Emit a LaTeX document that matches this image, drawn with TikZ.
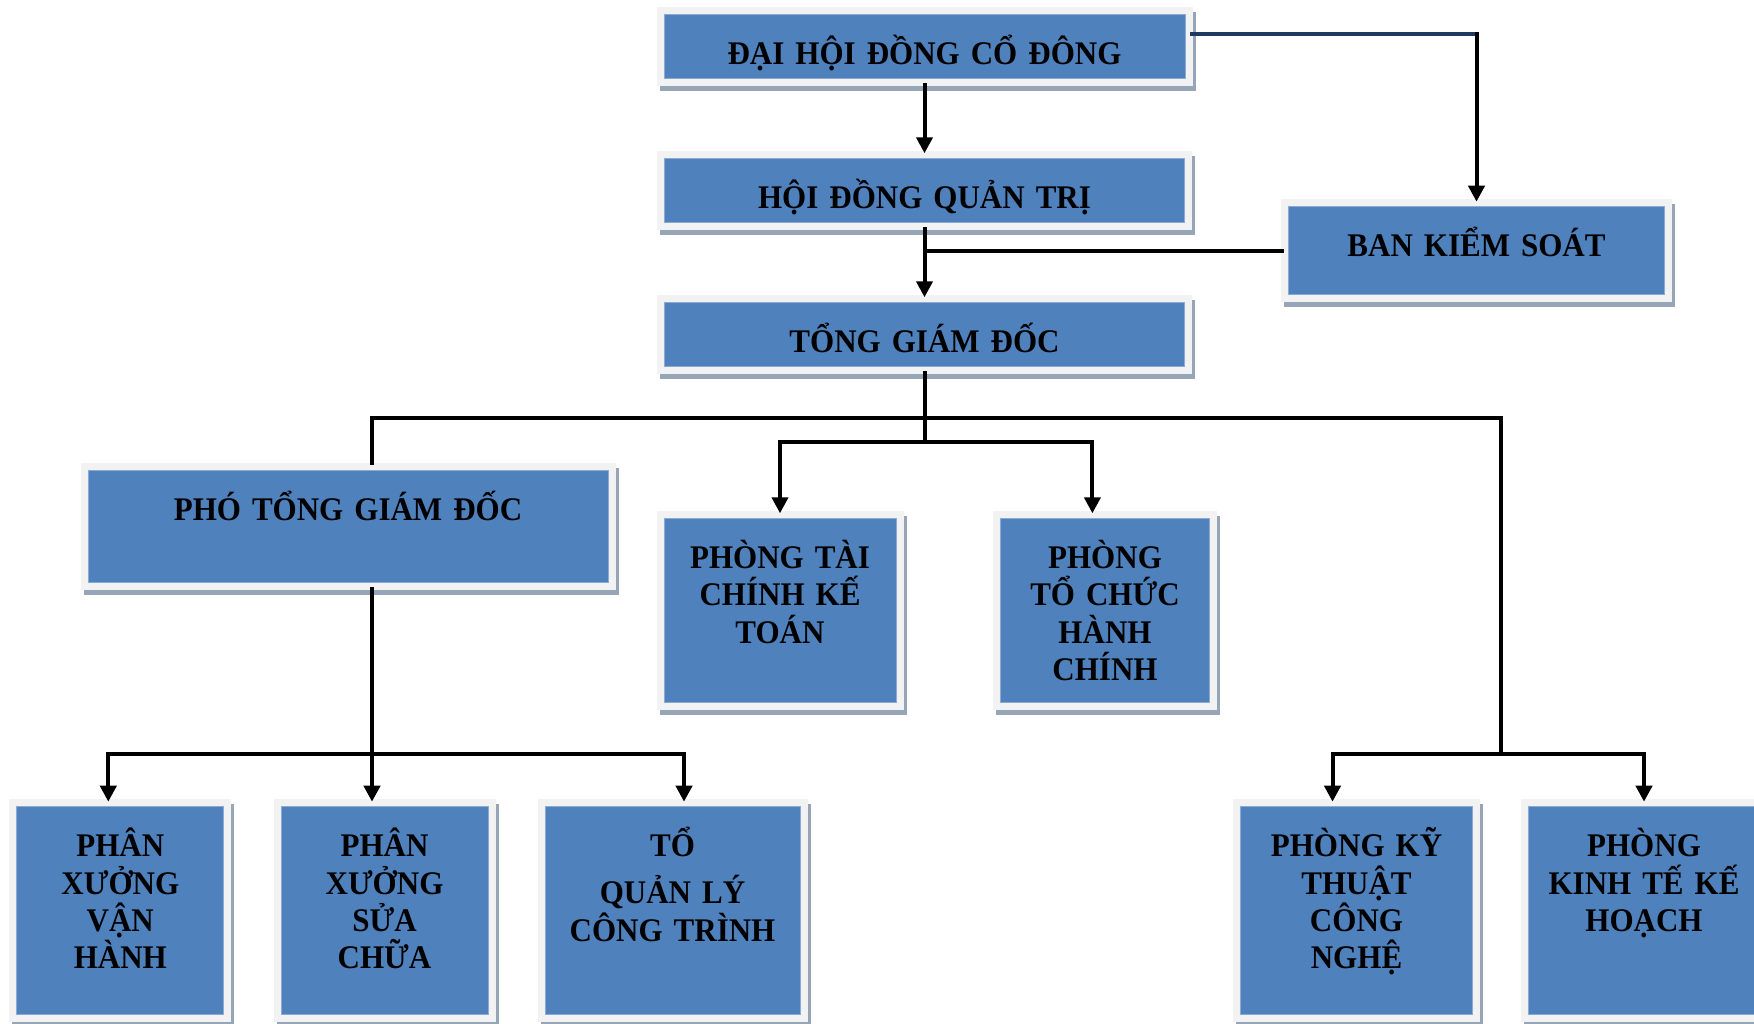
\documentclass[tikz,border=0pt]{standalone}
\usepackage{fontspec}
\setmainfont{Liberation Serif}[FakeStretch=0.94]
\usepackage{xcolor}
\usepackage{tikz}
\usetikzlibrary{arrows.meta}
\definecolor{boxblue}{HTML}{4F81BD}
\definecolor{boxedge}{HTML}{8DAAD6}
\definecolor{framegray}{HTML}{F2F2F2}
\definecolor{shadowgray}{HTML}{97A5B8}
\definecolor{navyline}{HTML}{1F3A60}
\tikzset{
	orgbox/.style={rectangle, fill=boxblue, draw=boxedge, line width=0.5pt,
		inner sep=0pt, outer sep=2.5pt, text height=25pt, align=center,
		font=\bfseries\fontsize{16.5}{18.7}\selectfont,
		preaction={draw=shadowgray, line width=7.5pt, transform canvas={shift={(1.5pt,-2.5pt)}}},
		preaction={draw=framegray, line width=7.5pt}},
	conn/.style={line width=2pt, draw=black},
	arr/.style={conn, -{Triangle[length=8pt, width=8pt]}}
}
\begin{document}
\begin{tikzpicture}[x=0.5pt, y=-0.5pt]
			\useasboundingbox (0,0) rectangle (1754,1023);
			% boxes
			\node[orgbox, text width=260.5pt, text depth=7pt] (dhdcd) at (924.5,46) {ĐẠI HỘI ĐỒNG CỔ ĐÔNG};
			\node[orgbox, text width=260pt, text depth=7pt] (hdqt) at (924.5,190.3) {HỘI ĐỒNG QUẢN TRỊ};
			\node[orgbox, text width=260pt, text depth=7pt] (tgd) at (924.5,334.3) {TỔNG GIÁM ĐỐC};
			\node[orgbox, text width=188pt, text depth=19pt] (bks) at (1476.5,250.7) {BAN KIỂM SOÁT};
			\node[orgbox, text width=260pt, text depth=31pt] (ptgd) at (348,526) {PHÓ TỔNG GIÁM ĐỐC};
			\node[orgbox, text width=116pt, text depth=67pt] (ptckt) at (780,610.3) {PHÒNG TÀI\\CHÍNH KẾ\\TOÁN};
			\node[orgbox, text width=104.5pt, text depth=67pt] (ptchc) at (1105,610.3) {PHÒNG\\TỔ CHỨC\\HÀNH\\CHÍNH};
			\node[orgbox, text width=103.5pt, text depth=79pt] (pxvh) at (120.3,910.7) {PHÂN\\XƯỞNG\\VẬN\\HÀNH};
			\node[orgbox, text width=103.5pt, text depth=79pt] (pxsc) at (384.5,910.7) {PHÂN\\XƯỞNG\\SỬA\\CHỮA};
			\node[orgbox, text width=127.5pt, text depth=79pt] (tqlct) at (672.5,910.7) {TỔ\\[4.8pt]QUẢN LÝ\\CÔNG TRÌNH};
			\node[orgbox, text width=116pt, text depth=79pt] (pktcn) at (1356.5,910.7) {PHÒNG KỸ\\THUẬT\\CÔNG\\NGHỆ};
			\node[orgbox, text width=116pt, text depth=79pt] (pktkh) at (1644,910.7) {PHÒNG\\KINH TẾ KẾ\\HOẠCH};
			% main chain
			\draw[arr] (dhdcd) -- (hdqt);
			\draw[arr] (hdqt) -- (tgd);
			% supervisory board
			\coordinate (dstart) at ([yshift=6pt]dhdcd.east);
			\coordinate (dturn) at (dstart -| bks.north);
			\draw[line width=2pt, navyline] (dstart) -- (dturn);
			\draw[arr, line cap=rect] (dturn) -- (bks);
			\draw[conn] (bks) -- (bks -| hdqt);
			% buses
			\coordinate (busone) at (0,418.4);
			\coordinate (bustwo) at (0,442);
			\coordinate (busthree) at (0,754);
			\coordinate (rdrop) at (1500.5,418.4);
			\coordinate (ptgdup) at ([xshift=12pt]ptgd.north);
			\coordinate (ptgddown) at ([xshift=12pt]ptgd.south);
			\draw[conn] (tgd) -- (tgd |- bustwo);
			\foreach \tgt/\dx in {ptckt/0pt, ptchc/-6.3pt}
			{
				\draw[arr] (tgd |- bustwo) -| ([xshift=\dx]\tgt.north);
			}
			\draw[conn] (ptgdup) |- (rdrop) -- (rdrop |- busthree);
			\foreach \tgt/\dx in {pktcn/-12pt, pktkh/0pt}
			{
				\draw[arr] (rdrop |- busthree) -| ([xshift=\dx]\tgt.north);
			}
			\draw[arr] (ptgddown) -- (ptgddown |- pxsc.north);
			\foreach \tgt/\dx in {pxvh/-6pt, tqlct/5.75pt}
			{
				\draw[arr] (ptgddown |- busthree) -| ([xshift=\dx]\tgt.north);
			}
		\end{tikzpicture}
\end{document}
